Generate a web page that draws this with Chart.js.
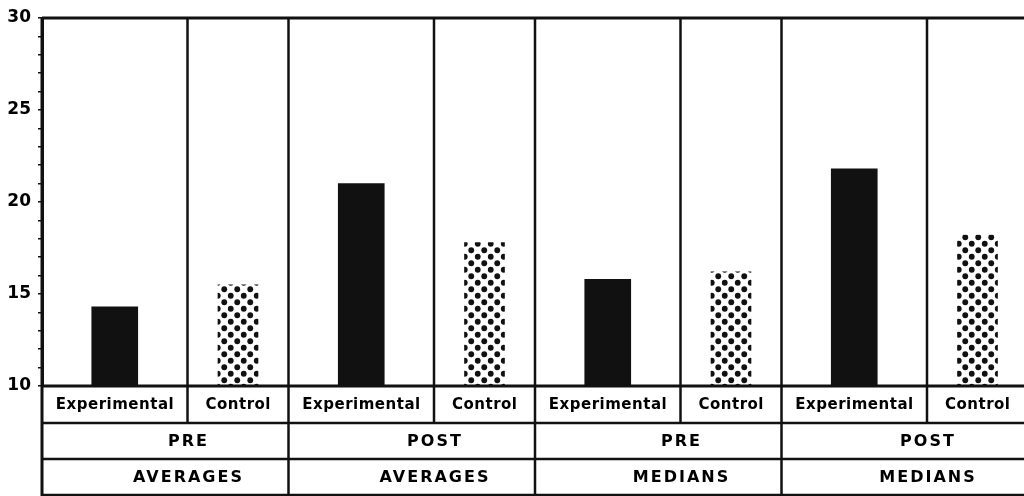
<!DOCTYPE html>
<html>
<head>
<meta charset="utf-8">
<script src="https://cdn.jsdelivr.net/npm/chart.js@4.4.1/dist/chart.umd.min.js"></script>
<style>
  html, body { margin: 0; padding: 0; background: #fff; }
</style>
</head>
<body>
<canvas id="chart" width="1024" height="496"></canvas>
<script>
const groups = ['Experimental', 'Control'];
const phases = ['PRE', 'POST', 'PRE', 'POST'];
const measures = ['AVERAGES', 'AVERAGES', 'MEDIANS', 'MEDIANS'];
const experimentalValues = [14.3, 21.0, 15.8, 21.8];
const controlValues = [15.5, 17.8, 16.2, 18.2];
const yTicks = [10, 15, 20, 25, 30];

// widths of the two columns in x-scale units (Experimental is wider)
const colSpan = [1.455, 1.01];
const pairSpan = colSpan[0] + colSpan[1];
const visibleSpan = 9.82;
const rowHeights = [37, 36, 36];

const expX = phases.map((p, i) => i * pairSpan + colSpan[0] / 2);
const ctrlX = phases.map((p, i) => i * pairSpan + colSpan[0] + colSpan[1] / 2);
const splitX = phases.map((p, i) => i * pairSpan + colSpan[0]);
const groupEnd = phases.map((p, i) => (i + 1) * pairSpan);

function dotPattern() {
  const c = document.createElement('canvas');
  c.width = 13; c.height = 13;
  const g = c.getContext('2d');
  g.fillStyle = '#111';
  [[3.25, 3.25], [9.75, 9.75]].forEach(([x, y]) => {
    g.beginPath();
    g.arc(x, y, 2.9, 0, Math.PI * 2);
    g.fill();
  });
  return g.createPattern(c, 'repeat');
}

function spacedText(ctx, text, x, y, size, spacing) {
  ctx.font = 'bold ' + size + 'px "DejaVu Sans"';
  ctx.letterSpacing = spacing + 'px';
  ctx.textAlign = 'center';
  ctx.textBaseline = 'middle';
  ctx.fillText(text, x + spacing / 2, y);
}

const tablePlugin = {
  id: 'table',
  afterDraw(chart) {
    const { ctx, chartArea } = chart;
    const xs = chart.scales.x;
    const top = chartArea.top, bottom = chartArea.bottom;
    const left = chartArea.left, right = chartArea.right;
    const r1 = bottom + rowHeights[0];
    const r2 = r1 + rowHeights[1];
    const r3 = r2 + rowHeights[2];
    ctx.save();
    ctx.strokeStyle = '#111';
    ctx.fillStyle = '#111';
    ctx.lineWidth = 3;
    const line = (x1, y1, x2, y2) => {
      ctx.beginPath(); ctx.moveTo(x1, y1); ctx.lineTo(x2, y2); ctx.stroke();
    };
    line(left, top, right, top);
    line(left, bottom, right, bottom);
    line(left, top, left, chart.height);
    ctx.lineWidth = 2.5;
    line(left, r1, right, r1);
    line(left, r2, right, r2);
    line(left, r3, right, r3);
    splitX.forEach(v => line(xs.getPixelForValue(v), top, xs.getPixelForValue(v), r1));
    groupEnd.forEach(v => {
      const px = xs.getPixelForValue(v);
      if (px < right) line(px, top, px, chart.height);
    });
    ctx.fillStyle = '#000';
    phases.forEach((p, i) => {
      spacedText(ctx, groups[0], xs.getPixelForValue(expX[i]), bottom + 19, 15, 0.5);
      spacedText(ctx, groups[1], xs.getPixelForValue(ctrlX[i]), bottom + 19, 15, 0.5);
      spacedText(ctx, p, xs.getPixelForValue(splitX[i]), r1 + 19, 16, 2);
      spacedText(ctx, measures[i], xs.getPixelForValue(splitX[i]), r2 + 19, 16, 2);
    });
    ctx.restore();
  }
};

new Chart(document.getElementById('chart'), {
  type: 'bar',
  data: {
    datasets: [
      {
        label: groups[0],
        data: experimentalValues.map((v, i) => ({ x: expX[i], y: v })),
        backgroundColor: '#111',
        barThickness: 46
      },
      {
        label: groups[1],
        data: controlValues.map((v, i) => ({ x: ctrlX[i], y: v })),
        backgroundColor: dotPattern(),
        barThickness: 40
      }
    ]
  },
  options: {
    responsive: false,
    animation: false,
    layout: { padding: { top: 18, bottom: 110, left: 0, right: 0 } },
    datasets: { bar: { grouped: false, base: 10 } },
    plugins: { legend: { display: false }, tooltip: { enabled: false } },
    scales: {
      x: { type: 'linear', display: false, offset: false, min: 0, max: visibleSpan },
      y: {
        min: 10,
        max: 30,
        afterFit(scale) { scale.width = 42; },
        border: { display: true, color: '#111', width: 3 },
        grid: { drawOnChartArea: false, drawTicks: true, tickLength: 4, color: '#111', lineWidth: 1.5 },
        ticks: {
          stepSize: 1,
          autoSkip: false,
          padding: 7,
          color: '#000',
          font: { family: 'DejaVu Sans', weight: 'bold', size: 17 },
          callback: v => yTicks.includes(v) ? String(v) : ''
        }
      }
    }
  },
  plugins: [tablePlugin]
});
</script>
</body>
</html>
